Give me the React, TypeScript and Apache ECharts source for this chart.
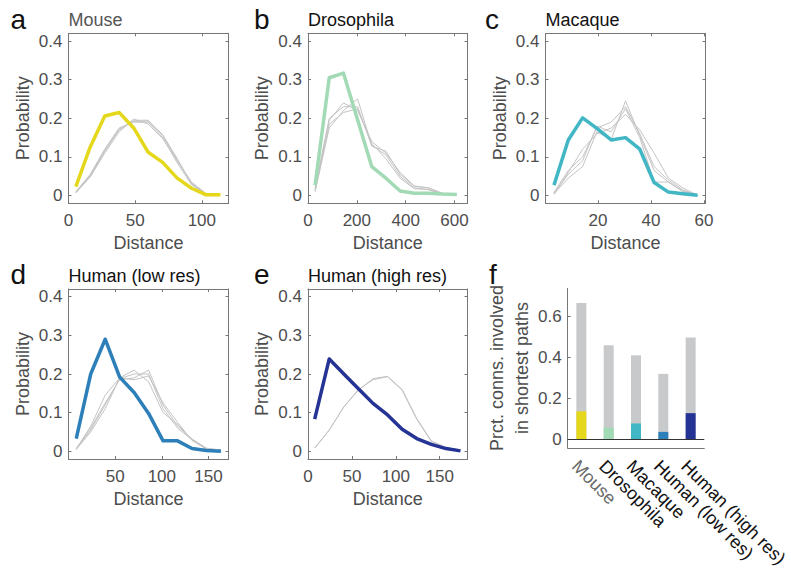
import React, { useEffect, useRef } from "react";
import * as echarts from "echarts";

// ---------- data ----------
const mouseX = [5.5, 16.3, 27.2, 38, 48.9, 59.8, 70.6, 81.5, 92.3, 103.2, 114];
const mouseEmp = [0.023, 0.126, 0.206, 0.215, 0.175, 0.112, 0.086, 0.045, 0.019, 0.002, 0.002];
const mouseNull1 = [0.008, 0.05, 0.115, 0.17, 0.195, 0.195, 0.155, 0.092, 0.032, 0.004];
const mouseNull2 = [0.01, 0.055, 0.12, 0.175, 0.19, 0.19, 0.15, 0.085, 0.028, 0.003];
const mouseNull3 = [0.007, 0.048, 0.11, 0.165, 0.198, 0.185, 0.148, 0.09, 0.035, 0.005];
const mouseNull4 = [0.009, 0.052, 0.118, 0.172, 0.192, 0.193, 0.158, 0.096, 0.03, 0.004];

const flyX = [29, 87, 145, 203, 261, 319, 377, 435, 493, 551, 609];
const flyEmp = [0.027, 0.305, 0.317, 0.196, 0.075, 0.045, 0.012, 0.006, 0.006, 0.004, 0.003];
const flyNull1 = [0.01, 0.175, 0.22, 0.25, 0.13, 0.105, 0.05, 0.02, 0.015, 0.004, 0.002];
const flyNull2 = [0.015, 0.195, 0.24, 0.22, 0.14, 0.11, 0.06, 0.025, 0.02, 0.006, 0.002];
const flyNull3 = [0.012, 0.185, 0.215, 0.225, 0.135, 0.095, 0.045, 0.018, 0.016, 0.004, 0.002];
const flyNull4 = [0.02, 0.2, 0.23, 0.23, 0.128, 0.115, 0.055, 0.024, 0.02, 0.005, 0.003];

const macX = [3.4, 8.8, 14.2, 19.6, 25, 30.4, 35.8, 41.2, 46.6, 52, 57.6];
const macEmp = [0.027, 0.144, 0.201, 0.174, 0.144, 0.15, 0.12, 0.034, 0.009, 0.005, 0.001];
const macNull1 = [0.005, 0.045, 0.075, 0.165, 0.145, 0.245, 0.155, 0.065, 0.035, 0.01, 0.0];
const macNull2 = [0.003, 0.06, 0.12, 0.16, 0.175, 0.21, 0.17, 0.11, 0.045, 0.02, 0.001];
const macNull3 = [0.008, 0.065, 0.1, 0.175, 0.19, 0.23, 0.16, 0.075, 0.04, 0.015, 0.0];
const macNull4 = [0.006, 0.055, 0.09, 0.18, 0.165, 0.225, 0.15, 0.035, 0.035, 0.012, 0.001];

const hlX = [8.3, 23.8, 39.3, 54.8, 70.3, 85.8, 101.3, 116.8, 132.3, 147.8, 163.3];
const hlEmp = [0.033, 0.2, 0.29, 0.192, 0.152, 0.098, 0.027, 0.027, 0.007, 0.002, 0.0];
const hlNull1 = [0.005, 0.05, 0.11, 0.19, 0.21, 0.18, 0.1, 0.07, 0.03, 0.005, 0.004];
const hlNull2 = [0.007, 0.06, 0.125, 0.185, 0.19, 0.21, 0.12, 0.065, 0.032, 0.008, 0.003];
const hlNull3 = [0.006, 0.065, 0.145, 0.19, 0.185, 0.195, 0.125, 0.075, 0.028, 0.006, 0.004];
const hlNull4 = [0.005, 0.055, 0.12, 0.188, 0.2, 0.2, 0.11, 0.06, 0.03, 0.006, 0.003];

const hhX = [7.6, 24.2, 40.8, 57.4, 74, 90.6, 107.2, 123.8, 140.4, 157, 173.6];
const hhEmp = [0.083, 0.239, 0.2, 0.162, 0.124, 0.094, 0.057, 0.033, 0.018, 0.007, 0.001];
const hhNull1 = [0.008, 0.055, 0.115, 0.158, 0.188, 0.194, 0.16, 0.085, 0.027, 0.01, 0.003];
const hhNull2 = [0.008, 0.055, 0.115, 0.16, 0.185, 0.193, 0.158, 0.083, 0.025, 0.01, 0.002];

const speciesNames = ["Mouse", "Drosophila", "Macaque", "Human (low res)", "Human (high res)"];
const totalFrac = [0.665, 0.459, 0.41, 0.32, 0.497];
const shortestFrac = [0.138, 0.059, 0.079, 0.038, 0.129];
const speciesColors = ["#e5d81c", "#a1dab4", "#41b6c4", "#2c7fb8", "#253494"];

const probTicks = [0, 0.1, 0.2, 0.3, 0.4];
const fracTicks = [0, 0.2, 0.4, 0.6];

// ---------- styling ----------
const FONT = "'Liberation Sans', Arial, Helvetica, sans-serif";
const AXIS_COLOR = "#767676";
const LABEL_COLOR = "#4d4d4d";
const GRAY_LINE = "#c4c4c4";

type Panel = {
  title: string;
  titleColor: string;
  grid: { left: number; top: number; width: number; height: number };
  xMin: number;
  xMax: number;
  xTicks: number[];
  x: number[];
  emp: number[];
  nulls: number[][];
  color: string;
};

const panels: Panel[] = [
  {
    title: "Mouse", titleColor: "#555555",
    grid: { left: 68.5, top: 33.3, width: 160, height: 170 },
    xMin: 0, xMax: 120, xTicks: [0, 50, 100],
    x: mouseX, emp: mouseEmp, nulls: [mouseNull1, mouseNull2, mouseNull3, mouseNull4], color: speciesColors[0],
  },
  {
    title: "Drosophila", titleColor: "#111111",
    grid: { left: 308, top: 33.3, width: 159.5, height: 170 },
    xMin: 0, xMax: 653, xTicks: [0, 200, 400, 600],
    x: flyX, emp: flyEmp, nulls: [flyNull1, flyNull2, flyNull3, flyNull4], color: speciesColors[1],
  },
  {
    title: "Macaque", titleColor: "#111111",
    grid: { left: 545.5, top: 33.3, width: 160, height: 170 },
    xMin: 0.2, xMax: 60.6, xTicks: [20, 40, 60],
    x: macX, emp: macEmp, nulls: [macNull1, macNull2, macNull3, macNull4], color: speciesColors[2],
  },
  {
    title: "Human (low res)", titleColor: "#111111",
    grid: { left: 68.5, top: 289, width: 160, height: 170 },
    xMin: 0, xMax: 171.4, xTicks: [50, 100, 150],
    x: hlX, emp: hlEmp, nulls: [hlNull1, hlNull2, hlNull3, hlNull4], color: speciesColors[3],
  },
  {
    title: "Human (high res)", titleColor: "#111111",
    grid: { left: 308, top: 289, width: 159.5, height: 170 },
    xMin: 0, xMax: 181.6, xTicks: [0, 50, 100, 150],
    x: hhX, emp: hhEmp, nulls: [hhNull1, hhNull2], color: speciesColors[4],
  },
];

const fGrid = { left: 567.7, top: 288.3, width: 137.5, height: 170.7 };

const fmt = (v: number) => (v === 0 ? "0" : String(Math.round(v * 10) / 10));

function buildOption() {
  const grids: any[] = [];
  const xAxes: any[] = [];
  const yAxes: any[] = [];
  const series: any[] = [];
  const graphics: any[] = [];

  const tickStyle = { color: AXIS_COLOR, width: 1 };
  const labelStyle = { color: LABEL_COLOR, fontSize: 17, fontFamily: FONT };
  const nameStyle = { color: LABEL_COLOR, fontSize: 18, fontFamily: FONT };

  panels.forEach((p, i) => {
    grids.push({ ...p.grid, containLabel: false, show: false });
    xAxes.push({
      type: "value", gridIndex: i, position: "bottom", min: p.xMin, max: p.xMax,
      axisLine: { show: true, onZero: false, lineStyle: { color: AXIS_COLOR } },
      axisTick: { show: true, inside: true, length: 3, customValues: p.xTicks, lineStyle: tickStyle },
      axisLabel: { customValues: p.xTicks, margin: 9, ...labelStyle, formatter: (v: number) => String(v) },
      splitLine: { show: false },
      name: "Distance", nameLocation: "middle", nameGap: 31, nameTextStyle: nameStyle,
    });
    xAxes.push({
      type: "value", gridIndex: i, position: "top", min: p.xMin, max: p.xMax,
      axisLine: { show: true, onZero: false, lineStyle: { color: AXIS_COLOR } },
      axisTick: { show: true, inside: true, length: 3, customValues: p.xTicks, lineStyle: tickStyle },
      axisLabel: { show: false, customValues: p.xTicks },
      splitLine: { show: false },
    });
    yAxes.push({
      type: "value", gridIndex: i, position: "left", min: -0.02, max: 0.42,
      axisLine: { show: true, onZero: false, lineStyle: { color: AXIS_COLOR } },
      axisTick: { show: true, inside: true, length: 3, customValues: probTicks, lineStyle: tickStyle },
      axisLabel: { customValues: probTicks, margin: 6, ...labelStyle, formatter: fmt },
      splitLine: { show: false },
      name: "Probability", nameLocation: "middle", nameGap: 37, nameTextStyle: nameStyle,
    });
    yAxes.push({
      type: "value", gridIndex: i, position: "right", min: -0.02, max: 0.42,
      axisLine: { show: true, onZero: false, lineStyle: { color: AXIS_COLOR } },
      axisTick: { show: true, inside: true, length: 3, customValues: probTicks, lineStyle: tickStyle },
      axisLabel: { show: false, customValues: probTicks },
      splitLine: { show: false },
    });

    p.nulls.forEach((nl) => {
      series.push({
        type: "line", xAxisIndex: i * 2, yAxisIndex: i * 2, silent: true,
        showSymbol: false, symbol: "none",
        lineStyle: { color: GRAY_LINE, width: 1 },
        data: nl.map((v, k) => [p.x[k], v]),
        z: 2,
      });
    });
    series.push({
      type: "line", xAxisIndex: i * 2, yAxisIndex: i * 2, silent: true,
      showSymbol: false, symbol: "none",
      lineStyle: { color: p.color, width: 3.5, join: "round" },
      data: p.emp.map((v, k) => [p.x[k], v]),
      z: 3,
    });

    graphics.push({
      type: "text", left: p.grid.left, top: p.grid.top - 22,
      style: { text: p.title, fill: p.titleColor, font: `18px ${FONT}` },
    });
  });

  // panel f
  const fi = panels.length;
  grids.push({ ...fGrid, containLabel: false, show: false });
  xAxes.push({
    type: "category", gridIndex: fi, position: "bottom", data: speciesNames,
    axisLine: { show: true, onZero: false, lineStyle: { color: AXIS_COLOR } },
    axisTick: { show: false },
    axisLabel: {
      interval: 0, rotate: -45, align: "left", verticalAlign: "top", margin: 9,
      fontSize: 18, fontFamily: FONT,
      color: (_v: any, idx: number) => (idx === 0 ? "#6a6a6a" : "#111111"),
    },
    splitLine: { show: false },
  });
  yAxes.push({
    type: "value", gridIndex: fi, position: "left", min: -0.0395, max: 0.736,
    axisLine: { show: true, onZero: false, lineStyle: { color: AXIS_COLOR } },
    axisTick: { show: true, inside: true, length: 3, customValues: fracTicks, lineStyle: tickStyle },
    axisLabel: { customValues: fracTicks, margin: 6, ...labelStyle, formatter: fmt },
    splitLine: { show: false },
    name: "Prct. conns. involved\nin shortest paths", nameLocation: "middle", nameGap: 30,
    nameTextStyle: { ...nameStyle, lineHeight: 25 },
  });
  series.push({
    type: "bar", xAxisIndex: xAxes.length - 1, yAxisIndex: yAxes.length - 1, silent: true,
    barWidth: 10, barGap: "-100%",
    itemStyle: { color: "#c8c9cb" },
    data: totalFrac,
    markLine: {
      silent: true, symbol: "none", label: { show: false },
      lineStyle: { color: "#333333", width: 1, type: "solid" },
      data: [{ yAxis: 0 }],
    },
  });
  series.push({
    type: "bar", xAxisIndex: xAxes.length - 1, yAxisIndex: yAxes.length - 1, silent: true,
    barWidth: 10, barGap: "-100%",
    data: shortestFrac.map((v, k) => ({ value: v, itemStyle: { color: speciesColors[k] } })),
  });

  const letters = [
    { t: "a", x: 10.5, y: 5 },
    { t: "b", x: 254, y: 5 },
    { t: "c", x: 485, y: 5 },
    { t: "d", x: 10.5, y: 260 },
    { t: "e", x: 254, y: 260 },
    { t: "f", x: 489, y: 260 },
  ];
  letters.forEach((l) => {
    graphics.push({
      type: "text", left: l.x, top: l.y,
      style: { text: l.t, fill: "#111111", font: `28px ${FONT}` },
    });
  });

  return {
    animation: false,
    backgroundColor: "#ffffff",
    textStyle: { fontFamily: FONT },
    grid: grids,
    xAxis: xAxes,
    yAxis: yAxes,
    series,
    graphic: graphics,
  };
}

export default function App() {
  const ref = useRef<HTMLDivElement>(null);
  useEffect(() => {
    if (!ref.current) return;
    const chart = echarts.init(ref.current, undefined, { renderer: "svg" });
    chart.setOption(buildOption() as any);
    return () => chart.dispose();
  }, []);
  return (
    <div
      ref={ref}
      style={{ position: "absolute", left: 0, top: 0, width: 791, height: 570, background: "#fff" }}
    />
  );
}
